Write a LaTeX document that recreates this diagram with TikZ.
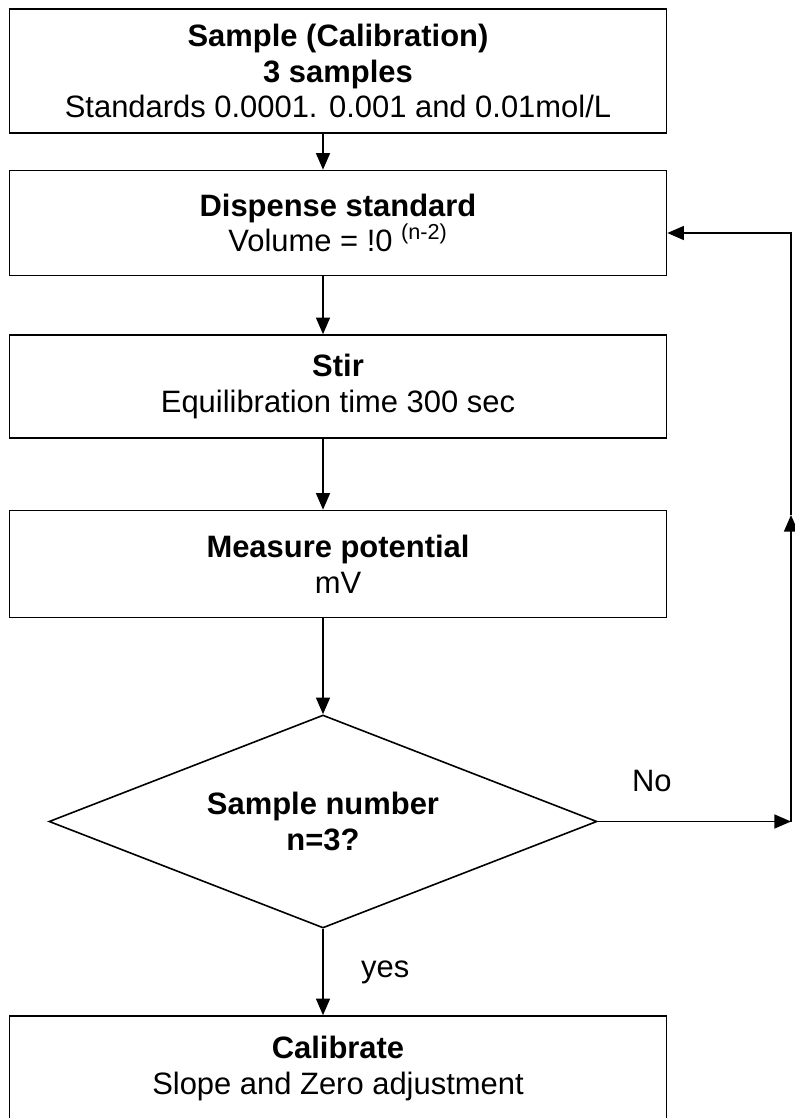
\documentclass[tikz,border=0pt]{standalone}
\usepackage{fontspec}
\setmainfont{Liberation Sans}
\usetikzlibrary{arrows.meta,shapes.geometric}
\newcommand{\dn}[2]{\draw (#1.south -| dec.north) -- (#2.north -| dec.north); }

\begin{document}
\begin{tikzpicture}[x=0.75pt,y=-0.75pt,->,>={Triangle[length=12.5pt,width=10.5pt]},line width=1.2pt,
  every node/.style={font=\fontsize{23.2}{26.8}\selectfont,align=center,inner sep=0pt},
  box/.style={draw,rectangle,minimum width=492.75pt,minimum height=78.75pt},
  test/.style={draw,diamond,shape aspect=2.57,minimum width=411pt,minimum height=159.75pt}]
  \useasboundingbox (0,0) rectangle (795,1118);
  \node[box,minimum height=93pt] (samp) at (338,71) {\textbf{Sample (Calibration)}\\\textbf{3 samples}\\Standards 0.0001. 0.001 and 0.01mol/L};
  \node[box] (disp) at (338,223) {\textbf{Dispense standard}\\Volume = !0 \textsuperscript{(n-2)}};
  \node[box,minimum height=77.25pt] (stir) at (338,386.5) {\textbf{Stir}\\Equilibration time 300 sec};
  \node[box,minimum height=80.25pt] (meas) at (338,564) {\textbf{Measure potential}\\mV};
  \node[test] (dec) at (323,821.5) {\textbf{Sample number}\\\textbf{n=3?}};
  \node[box] (cal) at (338,1068.5) {\textbf{Calibrate}\\Slope and Zero adjustment};
  \dn{samp}{disp}
  \dn{disp}{stir}
  \dn{stir}{meas}
  \dn{meas}{dec}
  \draw (dec.south) -- node[midway,right=28pt]{yes} (cal.north -| dec.south);
  % loop back when n<3
  \coordinate (c1) at (791,821.5);
  \coordinate (c2) at (791,515);
  \coordinate (c3) at (791,233);
  \draw (dec.east) -- node[pos=0.28,above=22pt]{No} (c1);
  \draw (c1) -- (c2);
  \draw (c2) -- (c3) -- (c3 -| disp.east);
\end{tikzpicture}
\end{document}
